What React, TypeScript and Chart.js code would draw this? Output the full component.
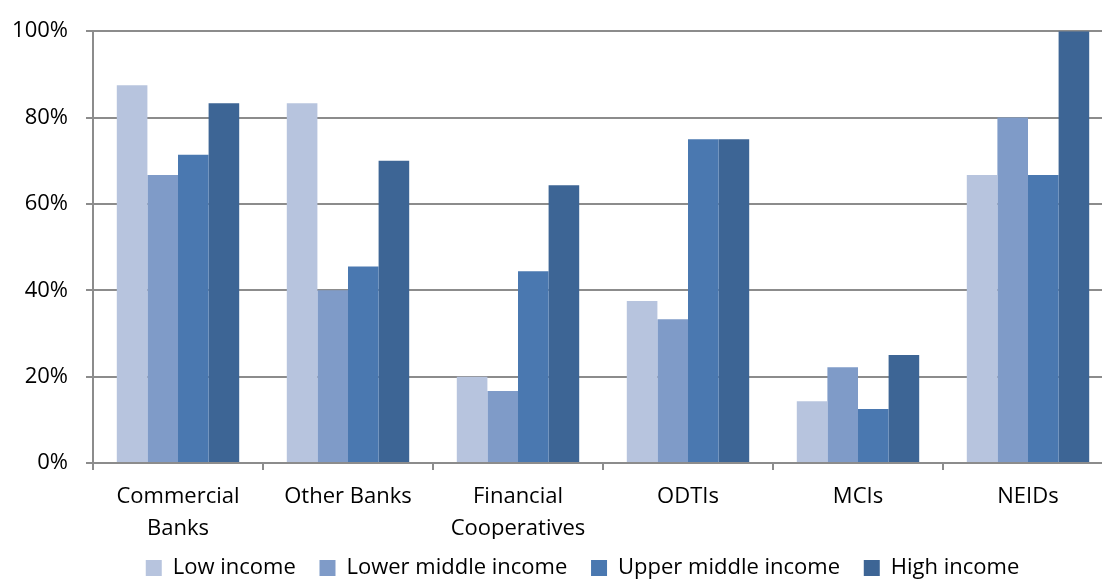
import { useEffect, useRef } from "react";
import { Chart, registerables } from "chart.js";

Chart.register(...registerables);

const categories: (string | string[])[] = [
  ["Commercial", "Banks"],
  "Other Banks",
  ["Financial", "Cooperatives"],
  "ODTIs",
  "MCIs",
  "NEIDs",
];
const seriesNames = ["Low income", "Lower middle income", "Upper middle income", "High income"];
const lowIncome = [87.5, 83.3, 20.0, 37.5, 14.3, 66.7];
const lowerMiddleIncome = [66.7, 40.0, 16.7, 33.3, 22.2, 80.0];
const upperMiddleIncome = [71.4, 45.5, 44.4, 75.0, 12.5, 66.7];
const highIncome = [83.3, 70.0, 64.3, 75.0, 25.0, 100.0];
const seriesColors = ["#B7C4DE", "#7F9BC8", "#4A78B0", "#3D6595"];
const yTickValues = [0, 20, 40, 60, 80, 100];

const FONT = "'Open Sans', 'Noto Sans', sans-serif";

export default function App() {
  const ref = useRef<HTMLCanvasElement | null>(null);

  useEffect(() => {
    if (!ref.current) return;
    const values = [lowIncome, lowerMiddleIncome, upperMiddleIncome, highIncome];
    const defaultGen = (Chart as any).defaults.plugins.legend.labels.generateLabels;
    const chart = new Chart(ref.current, {
      type: "bar",
      data: {
        labels: categories,
        datasets: seriesNames.map((name, i) => ({
          label: name,
          data: values[i],
          backgroundColor: seriesColors[i],
          borderWidth: 0,
          categoryPercentage: 0.72,
          barPercentage: 1,
          yAxisID: "y",
        })),
      },
      options: {
        responsive: false,
        animation: false,
        layout: { padding: { top: 30, left: 0, right: 0, bottom: 0 } },
        plugins: {
          tooltip: { enabled: false },
          legend: {
            position: "bottom",
            labels: {
              boxWidth: 16,
              boxHeight: 16,
              padding: 18,
              color: "#000",
              font: { family: FONT, size: 22 },
              generateLabels: (c: any) =>
                defaultGen(c).map((l: any, i: number) => ({
                  ...l,
                  text: i < seriesNames.length - 1 ? l.text + " " : l.text,
                })),
            },
          },
        },
        scales: {
          x: {
            grid: {
              drawOnChartArea: false,
              drawTicks: true,
              tickLength: 7,
              color: "#8c8c8c",
              lineWidth: 2,
              offset: true,
            },
            border: { display: true, color: "#8c8c8c", width: 2 },
            ticks: {
              color: "#000",
              padding: 11,
              maxRotation: 0,
              autoSkip: false,
              font: { family: FONT, size: 22, lineHeight: 1.45 },
            },
            afterFit: (s: any) => {
              s.height = 76;
            },
          },
          y: {
            min: 0,
            max: 100,
            afterBuildTicks: (s: any) => {
              s.ticks = yTickValues.map((v) => ({ value: v }));
            },
            grid: {
              color: "#8c8c8c",
              lineWidth: 2,
              tickLength: 7,
              drawTicks: true,
            },
            border: { display: true, color: "#8c8c8c", width: 2 },
            ticks: {
              color: "#000",
              padding: 18,
              font: { family: FONT, size: 22 },
              callback: (v: any) => v + "%",
            },
            afterFit: (s: any) => {
              s.width = 93;
            },
          },
          y2: {
            position: "right",
            display: true,
            grid: { display: false },
            border: { display: false },
            ticks: { display: false },
            afterFit: (s: any) => {
              s.width = 52;
            },
          },
        },
      },
    });
    return () => chart.destroy();
  }, []);

  return (
    <div
      style={{
        position: "absolute",
        left: 0,
        top: 0,
        width: 1102,
        height: 579,
        overflow: "hidden",
        background: "#fff",
      }}
    >
      <canvas ref={ref} width={1165} height={589} style={{ display: "block" }} />
    </div>
  );
}
